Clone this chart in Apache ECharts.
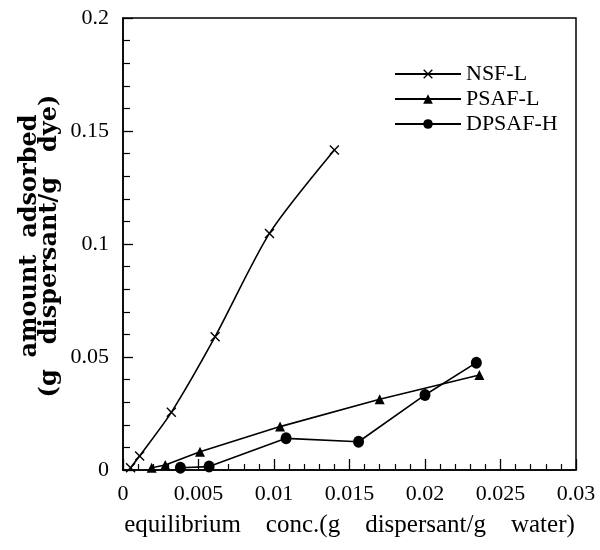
<!DOCTYPE html>
<html>
<head>
<meta charset="utf-8">
<script src="https://cdn.jsdelivr.net/npm/echarts@6/dist/echarts.min.js"></script>
<style>html,body{margin:0;padding:0;background:#fff}#c{width:600px;height:550px}</style>
</head>
<body>
<div id="c"></div>
<script>
// ---- data ----
const seriesNames = ['NSF-L', 'PSAF-L', 'DPSAF-H'];
const nsfX = [0.0005, 0.0011, 0.0032, 0.0061, 0.0097, 0.0140];
const nsfY = [0.001, 0.0062, 0.0255, 0.059, 0.1047, 0.1416];
const psafX = [0.0019, 0.0028, 0.0051, 0.0104, 0.0170, 0.0236];
const psafY = [0.001, 0.0022, 0.0081, 0.0192, 0.0313, 0.0420];
const dpsafX = [0.0038, 0.0057, 0.0108, 0.0156, 0.0200, 0.0234];
const dpsafY = [0.001, 0.0015, 0.0140, 0.0125, 0.0332, 0.0475];
const xTicks = [0, 0.005, 0.01, 0.015, 0.02, 0.025, 0.03];
const yTicks = [0, 0.05, 0.1, 0.15, 0.2];
const xTitle = 'equilibrium    conc.(g    dispersant/g    water)';
const yTitleLines = ['amount  adsorbed', '(g   dispersant/g   dye)'];

const pair = (xs, ys) => xs.map((x, i) => [x, ys[i]]);
const crossPath = 'path://M0,1 L1,0 L5,4 L9,0 L10,1 L6,5 L10,9 L9,10 L5,6 L1,10 L0,9 L4,5 Z';
const serif = '"Liberation Serif", "Times New Roman", serif';
const wideSerif = '"DejaVu Serif", serif';

const chart = echarts.init(document.getElementById('c'), null, {renderer: 'canvas'});
const lineStyle = {color: '#000', width: 1.6};
const yTitleStyle = (text) => ({text: text, font: 'bold 24px ' + wideSerif, fill: '#000', align: 'center', verticalAlign: 'middle'});
chart.setOption({
  animation: false,
  backgroundColor: '#fff',
  grid: {left: 123, right: 24, top: 18, bottom: 80, show: true, borderColor: '#000', borderWidth: 1.5, containLabel: false},
  graphic: [
    {type: 'text', x: 30, y: 236, rotation: Math.PI / 2, style: yTitleStyle(yTitleLines[0])},
    {type: 'text', x: 50, y: 246, rotation: Math.PI / 2, style: yTitleStyle(yTitleLines[1])}
  ],
  legend: {
    orient: 'vertical', left: 389, top: 58,
    itemWidth: 66, itemHeight: 12, itemGap: 3,
    data: seriesNames,
    textStyle: {fontFamily: serif, fontSize: 22, color: '#000'}
  },
  xAxis: {
    type: 'value', min: xTicks[0], max: xTicks[xTicks.length - 1], interval: 0.005,
    name: xTitle, nameLocation: 'middle', nameGap: 43,
    nameTextStyle: {fontFamily: serif, fontSize: 25, color: '#000'},
    axisLine: {lineStyle: {color: '#000', width: 1.5}},
    axisTick: {inside: true, length: 11, lineStyle: {color: '#000', width: 1.3}},
    minorTick: {show: true, splitNumber: 5, length: 6, lineStyle: {color: '#000', width: 1.2}},
    axisLabel: {fontFamily: serif, fontSize: 22, color: '#000', margin: 13,
      formatter: v => String(+v.toFixed(3))},
    splitLine: {show: false}
  },
  yAxis: {
    type: 'value', min: yTicks[0], max: yTicks[yTicks.length - 1], interval: 0.05,
    axisLine: {lineStyle: {color: '#000', width: 1.5}},
    axisTick: {inside: true, length: 10, lineStyle: {color: '#000', width: 1.3}},
    minorTick: {show: true, splitNumber: 5, length: 7, lineStyle: {color: '#000', width: 1.2}},
    axisLabel: {fontFamily: serif, fontSize: 22, color: '#000', margin: 14,
      formatter: v => String(+v.toFixed(3))},
    splitLine: {show: false}
  },
  series: [
    {name: seriesNames[0], type: 'line', data: pair(nsfX, nsfY), smooth: 0.25,
     symbol: crossPath, symbolSize: 10, lineStyle: lineStyle, itemStyle: {color: '#000'}},
    {name: seriesNames[1], type: 'line', data: pair(psafX, psafY),
     symbol: 'triangle', symbolSize: 10, lineStyle: lineStyle, itemStyle: {color: '#000'}},
    {name: seriesNames[2], type: 'line', data: pair(dpsafX, dpsafY),
     symbol: 'circle', symbolSize: [11, 12], lineStyle: lineStyle, itemStyle: {color: '#000'}}
  ]
});
</script>
</body>
</html>
